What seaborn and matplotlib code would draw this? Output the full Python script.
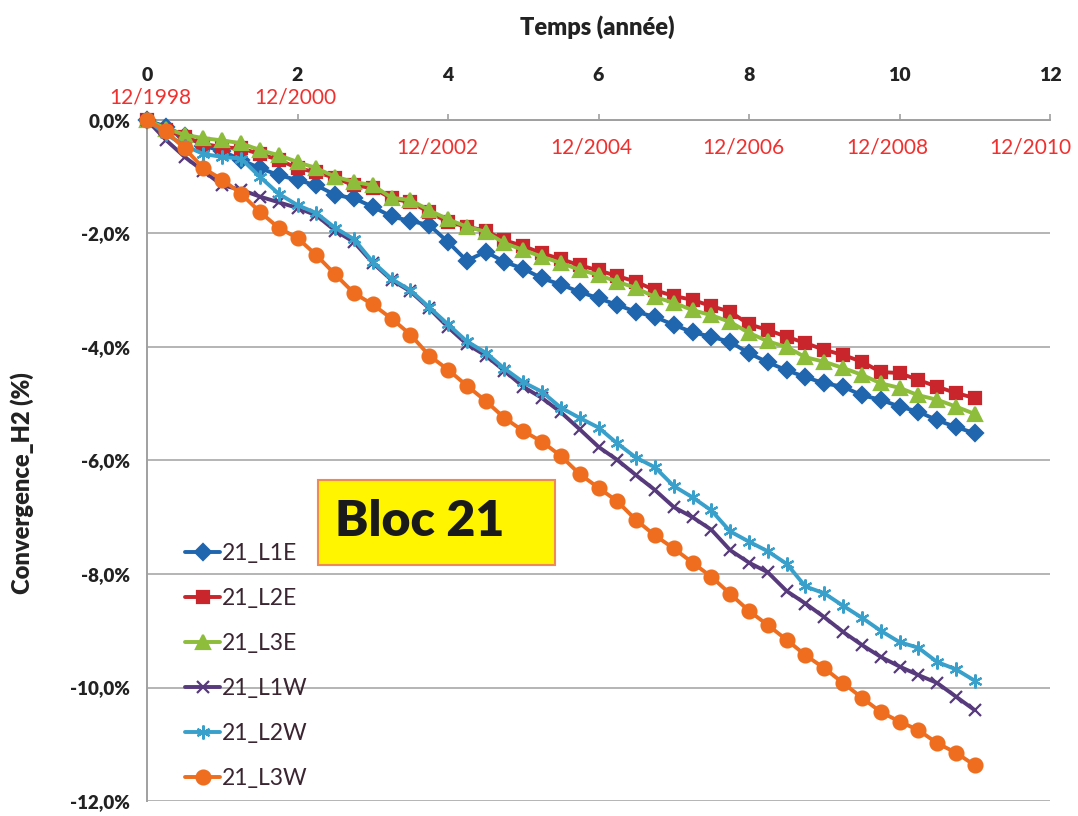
import numpy as np
import pandas as pd
import matplotlib
matplotlib.use("Agg")
import matplotlib.pyplot as plt
from matplotlib.patches import Rectangle
import seaborn as sns

# ---------------- data ----------------
years = [i * 0.25 for i in range(45)]  # quarterly time axis, 0 .. 11 years

l1e = [0, -0.12, -0.28, -0.45, -0.55, -0.70, -0.85, -0.97, -1.06, -1.15, -1.32, -1.38, -1.53,
       -1.70, -1.78, -1.85, -2.15, -2.48, -2.32, -2.50, -2.62, -2.79, -2.90, -3.03, -3.14,
       -3.26, -3.38, -3.47, -3.61, -3.74, -3.82, -3.91, -4.11, -4.27, -4.41, -4.53, -4.64,
       -4.70, -4.85, -4.93, -5.05, -5.14, -5.29, -5.41, -5.52]
l2e = [0, -0.18, -0.30, -0.42, -0.48, -0.50, -0.60, -0.70, -0.85, -0.92, -1.02, -1.15, -1.20,
       -1.38, -1.45, -1.62, -1.80, -1.88, -1.95, -2.12, -2.22, -2.35, -2.45, -2.56, -2.65,
       -2.75, -2.85, -3.00, -3.10, -3.17, -3.28, -3.38, -3.60, -3.70, -3.82, -3.93, -4.05,
       -4.14, -4.26, -4.44, -4.46, -4.58, -4.70, -4.81, -4.90]
l3e = [0, -0.15, -0.26, -0.32, -0.36, -0.41, -0.53, -0.62, -0.74, -0.85, -1.00, -1.09, -1.15,
       -1.37, -1.41, -1.59, -1.75, -1.88, -1.97, -2.17, -2.29, -2.41, -2.52, -2.64, -2.73,
       -2.85, -2.96, -3.12, -3.22, -3.35, -3.44, -3.56, -3.75, -3.90, -4.00, -4.18, -4.26,
       -4.37, -4.49, -4.64, -4.72, -4.85, -4.93, -5.05, -5.18]
l1w = [0, -0.35, -0.65, -0.90, -1.15, -1.23, -1.35, -1.45, -1.55, -1.68, -1.95, -2.15, -2.52,
       -2.82, -3.02, -3.32, -3.65, -3.95, -4.15, -4.42, -4.70, -4.90, -5.15, -5.45, -5.76,
       -5.99, -6.26, -6.52, -6.82, -7.00, -7.22, -7.58, -7.80, -7.97, -8.30, -8.52, -8.76,
       -9.02, -9.25, -9.46, -9.63, -9.78, -9.92, -10.16, -10.40]
l2w = [0, -0.25, -0.45, -0.60, -0.65, -0.68, -1.00, -1.30, -1.50, -1.64, -1.90, -2.10, -2.50,
       -2.80, -3.00, -3.30, -3.60, -3.90, -4.10, -4.38, -4.62, -4.79, -5.07, -5.25, -5.42,
       -5.70, -5.95, -6.12, -6.45, -6.65, -6.88, -7.25, -7.43, -7.60, -7.82, -8.22, -8.34,
       -8.56, -8.77, -9.00, -9.20, -9.30, -9.55, -9.68, -9.88]
l3w = [0, -0.20, -0.50, -0.85, -1.05, -1.30, -1.62, -1.90, -2.08, -2.38, -2.72, -3.05, -3.25,
       -3.50, -3.78, -4.15, -4.40, -4.68, -4.95, -5.25, -5.48, -5.67, -5.92, -6.24, -6.48,
       -6.72, -7.05, -7.32, -7.55, -7.80, -8.05, -8.35, -8.65, -8.90, -9.16, -9.43, -9.66,
       -9.92, -10.18, -10.43, -10.60, -10.75, -10.98, -11.15, -11.37]

series_names = ["21_L1E", "21_L2E", "21_L3E", "21_L1W", "21_L2W", "21_L3W"]
series_values = [l1e, l2e, l3e, l1w, l2w, l3w]

x_ticks = [0, 2, 4, 6, 8, 10, 12]
y_ticks = [0, -2, -4, -6, -8, -10, -12]
y_tick_labels = ["0,0%", "-2,0%", "-4,0%", "-6,0%", "-8,0%", "-10,0%", "-12,0%"]

date_labels = ["12/1998", "12/2000", "12/2002", "12/2004", "12/2006", "12/2008", "12/2010"]
date_x = [0.04, 1.97, 3.86, 5.90, 7.93, 9.84, 11.74]
date_y = [0.40, 0.40, -0.48, -0.48, -0.48, -0.48, -0.48]

# ---------------- style ----------------
sns.set_theme(style="white")
plt.rcParams["font.family"] = ["Lato", "DejaVu Sans"]

colors = ["#1F66AE", "#C8262C", "#8DBD3A", "#573A7C", "#38A0CB", "#EE6D1E"]
markers = ["D", "s", "^", "x", (6, 2, 0), "o"]
msizes = [8, 8, 9.5, 8, 10, 10]

df = pd.DataFrame({"year": years})
for n, v in zip(series_names, series_values):
    df[n] = v
long = df.melt(id_vars="year", var_name="serie", value_name="conv")

fig = plt.figure(figsize=(10.78, 8.16), dpi=100)
ax = fig.add_axes([147 / 1078, 1 - 801 / 816, 903 / 1078, 681 / 816])

for n, c, m, ms in zip(series_names, colors, markers, msizes):
    sub = long[long["serie"] == n]
    sns.lineplot(data=sub, x="year", y="conv", ax=ax, color=c, marker=m,
                 markersize=ms, linewidth=2.8, label=n,
                 markeredgecolor=c, markeredgewidth=1.6, clip_on=False, zorder=3)

ax.set_xlim(0, 12)
ax.set_ylim(-12, 0)
ax.xaxis.tick_top()
ax.set_xticks(x_ticks)
ax.set_xticklabels([str(t) for t in x_ticks], fontsize=14, fontweight="heavy", color="#222222")
ax.set_yticks(y_ticks)
ax.set_yticklabels(y_tick_labels, fontsize=13.5, fontweight="heavy", color="#222222")
ax.tick_params(axis="x", direction="out", length=4, width=1.2, color="#a0a0a0", pad=22)
ax.tick_params(axis="y", direction="out", length=6, width=1.2, color="#a0a0a0", pad=6)
ax.set_xlabel("")
ax.set_ylabel("")
ax.yaxis.grid(True, color="#b4b4b4", linewidth=1.4)
ax.xaxis.grid(False)
for s in ["right", "bottom"]:
    ax.spines[s].set_visible(False)
for s in ["left", "top"]:
    ax.spines[s].set_color("#a0a0a0")
    ax.spines[s].set_linewidth(1.4)

fig.text(597 / 1078, 1 - 27 / 816, "Temps (année)", ha="center", va="center",
         fontsize=17, fontweight="heavy", color="#222222")
fig.text(22 / 1078, 1 - 483 / 816, "Convergence_H2 (%)", ha="center", va="center",
         rotation=90, fontsize=17, fontweight="heavy", color="#222222")

for lbl, xx, yy in zip(date_labels, date_x, date_y):
    ax.text(xx, yy, lbl, ha="center", va="center", fontsize=15, color="#F0302E", clip_on=False)

# Bloc 21 box
fig.patches.append(Rectangle((318 / 1078, 1 - 565 / 816), 237 / 1078, 85 / 816,
                             transform=fig.transFigure, facecolor="#FFF500",
                             edgecolor="#F08A50", linewidth=1.5, zorder=5))
fig.text(420 / 1078, 1 - 522 / 816, "Bloc 21", ha="center", va="center",
         fontsize=36, fontweight="heavy", color="#1a1a1a", zorder=6)

leg = ax.legend(loc="upper left", bbox_to_anchor=(174 / 1078, 1 - 532 / 816),
                bbox_transform=fig.transFigure, frameon=False, fontsize=16.5,
                handlelength=1.5, handletextpad=0.1, labelspacing=1.04,
                borderpad=0)
for t in leg.get_texts():
    t.set_color("#3a2530")

fig.savefig("out.png", dpi=100)
